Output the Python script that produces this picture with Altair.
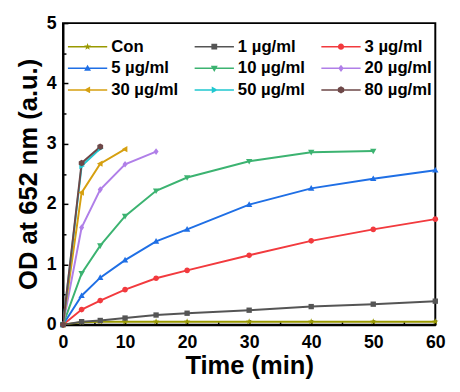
import math
import altair as alt
import pandas as pd

# ---------------- data ----------------
series = ["Con", "1 µg/ml", "3 µg/ml", "5 µg/ml", "10 µg/ml",
          "20 µg/ml", "30 µg/ml", "50 µg/ml", "80 µg/ml"]
times = [0, 3, 6, 10, 15, 20, 30, 40, 50, 60]
con = [0, 0.04, 0.05, 0.05, 0.05, 0.05, 0.05, 0.05, 0.05, 0.05]
c1 = [0, 0.05, 0.07, 0.11, 0.16, 0.19, 0.24, 0.30, 0.34, 0.39]
c3 = [0, 0.25, 0.40, 0.58, 0.77, 0.90, 1.15, 1.39, 1.58, 1.75]
c5 = [0, 0.48, 0.78, 1.07, 1.38, 1.58, 1.99, 2.26, 2.42, 2.56]
c10 = [0, 0.85, 1.31, 1.80, 2.22, 2.44, 2.71, 2.86, 2.88]
c20 = [0, 1.61, 2.24, 2.66, 2.87]
c30 = [0, 2.19, 2.67, 2.91]
c50 = [0, 2.63, 2.92]
c80 = [0, 2.68, 2.95]
values = [con, c1, c3, c5, c10, c20, c30, c50, c80]

colors = ["#999900", "#555555", "#f23a3e", "#1f6fe5", "#3cb371",
          "#b07fe8", "#d6a010", "#20c8d0", "#6e4848"]
marker_kinds = ["star", "square", "circle", "tri-up", "tri-down",
                "diamond", "tri-left", "tri-right", "hexagon"]
# legend is filled column by column: reorder so rows read Con,1,3 / 5,10,20 / 30,50,80
legend_order = [0, 3, 6, 1, 4, 7, 2, 5, 8]


# ---------------- marker shapes (unit paths) ----------------
def _cw(pts):
    a = sum(pts[i][0] * pts[(i + 1) % len(pts)][1] - pts[(i + 1) % len(pts)][0] * pts[i][1]
            for i in range(len(pts)))
    return pts if a > 0 else pts[::-1]


def marker_pts(kind):
    if kind == "star":
        return [((1 if k % 2 == 0 else 0.42) * math.cos(math.radians(-90 + 36 * k)),
                 (1 if k % 2 == 0 else 0.42) * math.sin(math.radians(-90 + 36 * k)))
                for k in range(10)]
    if kind == "square":
        return [(-0.8, -0.8), (0.8, -0.8), (0.8, 0.8), (-0.8, 0.8)]
    if kind == "tri-up":
        return [(0, -1), (0.95, 0.7), (-0.95, 0.7)]
    if kind == "tri-down":
        return [(0, 1), (0.95, -0.7), (-0.95, -0.7)]
    if kind == "tri-left":
        return [(-1, 0), (0.7, -0.95), (0.7, 0.95)]
    if kind == "tri-right":
        return [(1, 0), (-0.7, -0.95), (-0.7, 0.95)]
    if kind == "diamond":
        return [(0, -1), (0.75, 0), (0, 1), (-0.75, 0)]
    if kind == "hexagon":
        return [(math.cos(math.radians(30 + 60 * k)), math.sin(math.radians(30 + 60 * k)))
                for k in range(6)]
    return None


def marker_path(kind, r, cx=0.0):
    if kind == "circle":
        rr = 0.85 * r
        return (f"M{cx - rr:.3f},0A{rr:.3f},{rr:.3f} 0 1,1 {cx + rr:.3f},0"
                f"A{rr:.3f},{rr:.3f} 0 1,1 {cx - rr:.3f},0Z")
    pts = _cw(marker_pts(kind))
    return "M" + "L".join(f"{cx + x * r:.3f},{y * r:.3f}" for x, y in pts) + "Z"


# legend glyph: a line segment with the marker in its middle (unit = 10 px)
LINE_BAR = "M-1,-0.08L3,-0.08L3,0.08L-1,0.08Z"
plot_shapes = [marker_path(k, 1.0) for k in marker_kinds]
legend_shapes = [LINE_BAR + marker_path(k, 0.37, cx=1.0) for k in marker_kinds]

rows = []
for name, vals, shp in zip(series, values, plot_shapes):
    for t, v in zip(times, vals):
        rows.append({"series": name, "time": t, "od": v, "mk": shp})
df = pd.DataFrame(rows)

dom = [series[i] for i in legend_order]
col_rng = [colors[i] for i in legend_order]
shp_rng = [legend_shapes[i] for i in legend_order]

W, H = 379, 307
xscale = alt.Scale(domain=[0, 60], nice=False, zero=False)
yscale = alt.Scale(domain=[0, 5], nice=False, zero=False)
cscale = alt.Scale(domain=dom, range=col_rng)
FONT = "Liberation Sans"

leg = alt.Legend(
    title=None, orient="none", legendX=5, legendY=14, columns=3,
    columnPadding=16, rowPadding=4, labelOffset=24,
    labelFont=FONT, labelFontSize=17, labelFontWeight="bold", labelColor="black",
    symbolSize=400, symbolStrokeWidth=0, padding=0,
)

x_main = alt.Axis(orient="bottom", values=list(range(0, 61, 10)), ticks=False,
                  domainColor="black", domainWidth=2, grid=False,
                  labelFont=FONT, labelFontSize=18, labelFontWeight="bold",
                  labelColor="black", labelPadding=9, labelFlush=False,
                  title="Time (min)", titleFont=FONT, titleFontSize=26,
                  titleFontWeight="bold", titleColor="black", titlePadding=2)
y_main = alt.Axis(orient="left", values=[0, 1, 2, 3, 4, 5], ticks=False,
                  domainColor="black", domainWidth=2, grid=False,
                  labelFont=FONT, labelFontSize=18, labelFontWeight="bold",
                  labelColor="black", labelPadding=7, labelFlush=False,
                  title="OD at 652 nm (a.u.)", titleFont=FONT, titleFontSize=26,
                  titleFontWeight="bold", titleColor="black", titlePadding=5)

x_ticks = alt.Axis(orient="top", offset=-H, values=list(range(0, 61, 5)),
                   labels=False, domain=False, grid=False, title=None,
                   ticks=True, tickColor="black", tickWidth=1.5,
                   tickSize={"condition": {"test": "datum.value % 10 !== 0", "value": 3}, "value": 5})
y_ticks = alt.Axis(orient="right", offset=-W, values=[i / 2 for i in range(11)],
                   labels=False, domain=False, grid=False, title=None,
                   ticks=True, tickColor="black", tickWidth=1.5,
                   tickSize={"condition": {"test": "datum.value % 1 !== 0", "value": 3}, "value": 5})

base = alt.Chart(df)

lines = base.mark_line(strokeWidth=2, clip=True).encode(
    x=alt.X("time:Q", scale=xscale, axis=x_main),
    y=alt.Y("od:Q", scale=yscale, axis=y_main),
    color=alt.Color("series:N", scale=cscale, legend=leg),
    detail="series:N",
)

points = base.mark_point(filled=True, opacity=1, size=46, strokeWidth=0).encode(
    x=alt.X("time:Q", scale=xscale, axis=None),
    y=alt.Y("od:Q", scale=yscale, axis=None),
    color=alt.Color("series:N", scale=cscale, legend=leg),
    shape=alt.Shape("mk:N", scale=None),
)

legend_layer = base.transform_filter("false").mark_point(
    filled=True, opacity=1, strokeWidth=0).encode(
    x=alt.X("time:Q", scale=xscale, axis=x_ticks),
    y=alt.Y("od:Q", scale=yscale, axis=y_ticks),
    color=alt.Color("series:N", scale=cscale, legend=leg),
    shape=alt.Shape("series:N", scale=alt.Scale(domain=dom, range=shp_rng), legend=leg),
)

chart = alt.layer(lines, points, legend_layer).resolve_axis(
    x="independent", y="independent"
).properties(
    width=W, height=H,
    autosize=alt.AutoSizeParams(type="none"),
    padding={"left": 56, "top": 12, "right": 17, "bottom": 57},
    background="white",
).configure_view(stroke="black", strokeWidth=2)

chart.save("out.html", embed_options={"renderer": "svg", "actions": False})
